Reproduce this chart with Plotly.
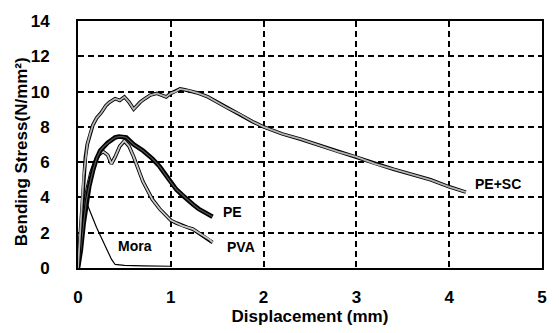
import plotly.graph_objects as go

pesc_x = [0, 0.02, 0.04, 0.06, 0.08, 0.1, 0.13, 0.16, 0.2, 0.25, 0.3, 0.34, 0.4, 0.45, 0.5, 0.55, 0.6, 0.63, 0.67, 0.72, 0.78, 0.85, 0.9, 0.95, 1.0, 1.05, 1.1, 1.15, 1.2, 1.3, 1.4, 1.5, 1.6, 1.75, 1.88, 2.0, 2.2, 2.4, 2.6, 2.8, 3.0, 3.2, 3.4, 3.6, 3.8, 4.0, 4.1, 4.18]
pesc_y = [0, 1.5, 3.5, 5.2, 6.3, 7.0, 7.6, 8.1, 8.5, 8.8, 9.2, 9.4, 9.6, 9.5, 9.7, 9.4, 9.0, 9.2, 9.4, 9.6, 9.8, 9.9, 9.8, 9.7, 9.9, 10.0, 10.15, 10.1, 10.05, 9.9, 9.7, 9.4, 9.1, 8.7, 8.3, 8.0, 7.6, 7.3, 6.95, 6.6, 6.3, 5.9, 5.6, 5.3, 5.0, 4.6, 4.45, 4.3]

pe_x = [0, 0.03, 0.06, 0.09, 0.12, 0.16, 0.2, 0.24, 0.28, 0.32, 0.36, 0.4, 0.44, 0.48, 0.52, 0.56, 0.6, 0.7, 0.8, 0.88, 0.95, 1.0, 1.06, 1.12, 1.18, 1.24, 1.3, 1.36, 1.42, 1.45]
pe_y = [0, 1.0, 2.5, 3.8, 4.6, 5.5, 6.2, 6.65, 6.9, 7.1, 7.25, 7.4, 7.45, 7.45, 7.4, 7.2, 7.0, 6.65, 6.2, 5.75, 5.2, 4.85, 4.45, 4.15, 3.85, 3.6, 3.35, 3.15, 2.95, 2.9]

pva_x = [0, 0.03, 0.06, 0.1, 0.14, 0.18, 0.22, 0.27, 0.32, 0.36, 0.4, 0.45, 0.5, 0.55, 0.6, 0.65, 0.7, 0.75, 0.8, 0.88, 0.95, 1.0, 1.06, 1.12, 1.18, 1.24, 1.3, 1.36, 1.42, 1.45]
pva_y = [0, 1.2, 3.0, 4.5, 5.4, 6.0, 6.4, 6.6, 6.4, 5.9, 6.3, 6.9, 7.2, 6.9, 6.3, 5.6, 4.9, 4.4, 3.9, 3.35, 2.95, 2.7, 2.55, 2.4, 2.3, 2.2, 2.0, 1.8, 1.6, 1.45]

mora_x = [0, 0.02, 0.04, 0.06, 0.1, 0.2, 0.3, 0.36, 0.4, 0.5, 0.7, 0.9, 1.0]
mora_y = [0, 1.5, 3.5, 4.3, 3.6, 2.3, 1.2, 0.5, 0.2, 0.15, 0.12, 0.12, 0.1]

labels = ["PE+SC", "PE", "PVA", "Mora"]
label_x = [4.53, 1.67, 1.76, 0.61]
label_y = [4.78, 3.19, 1.2, 1.26]

x_ticks = [0, 1, 2, 3, 4, 5]
y_ticks = [0, 2, 4, 6, 8, 10, 12, 14]

x_title = "Displacement (mm)"
y_title = "Bending Stress(N/mm²)"

fig = go.Figure()

def add_curve(x, y, outer_w, inner_w, inner_color):
    fig.add_trace(go.Scatter(x=x, y=y, mode="lines", line=dict(color="black", width=outer_w), hoverinfo="skip"))
    fig.add_trace(go.Scatter(x=x, y=y, mode="lines", line=dict(color=inner_color, width=inner_w), hoverinfo="skip"))

fig.add_trace(go.Scatter(x=mora_x, y=mora_y, mode="lines", line=dict(color="black", width=1.2), hoverinfo="skip"))
add_curve(pva_x, pva_y, 3.6, 1.8, "#c8c8c8")
add_curve(pe_x, pe_y, 4.6, 1.2, "#555555")
add_curve(pesc_x, pesc_y, 3.6, 1.8, "#b4b4b4")

for t, lx, ly in zip(labels, label_x, label_y):
    fig.add_annotation(x=lx, y=ly, text=t, showarrow=False,
                       font=dict(family="Liberation Sans", size=14, color="black", weight="bold"))

title_font = dict(family="Liberation Sans", size=17, color="black", weight="bold")
fig.add_annotation(xref="paper", yref="paper", x=-0.12, y=0.47, text=y_title, textangle=-90,
                   showarrow=False, xanchor="center", yanchor="middle", font=title_font)

axis_common = dict(showline=True, linecolor="black", linewidth=2, mirror=True,
                   showgrid=True, gridcolor="black", gridwidth=1.5, griddash="6px,4px",
                   zeroline=False, ticks="",
                   tickfont=dict(family="Liberation Sans", size=17, color="black", weight="bold"))

fig.update_xaxes(range=[0, 5], tickvals=x_ticks, ticktext=[str(v) for v in x_ticks],
                 title_text=x_title, title_font=title_font, title_standoff=0, ticklabelstandoff=13, **axis_common)
fig.update_yaxes(range=[0, 14], tickvals=y_ticks, ticktext=[str(v) for v in y_ticks],
                 ticklabelstandoff=23, **axis_common)

fig.update_layout(width=559, height=333, margin=dict(l=78, r=16, t=13, b=65),
                  paper_bgcolor="white", plot_bgcolor="white", showlegend=False)

fig.write_html("out.html")
